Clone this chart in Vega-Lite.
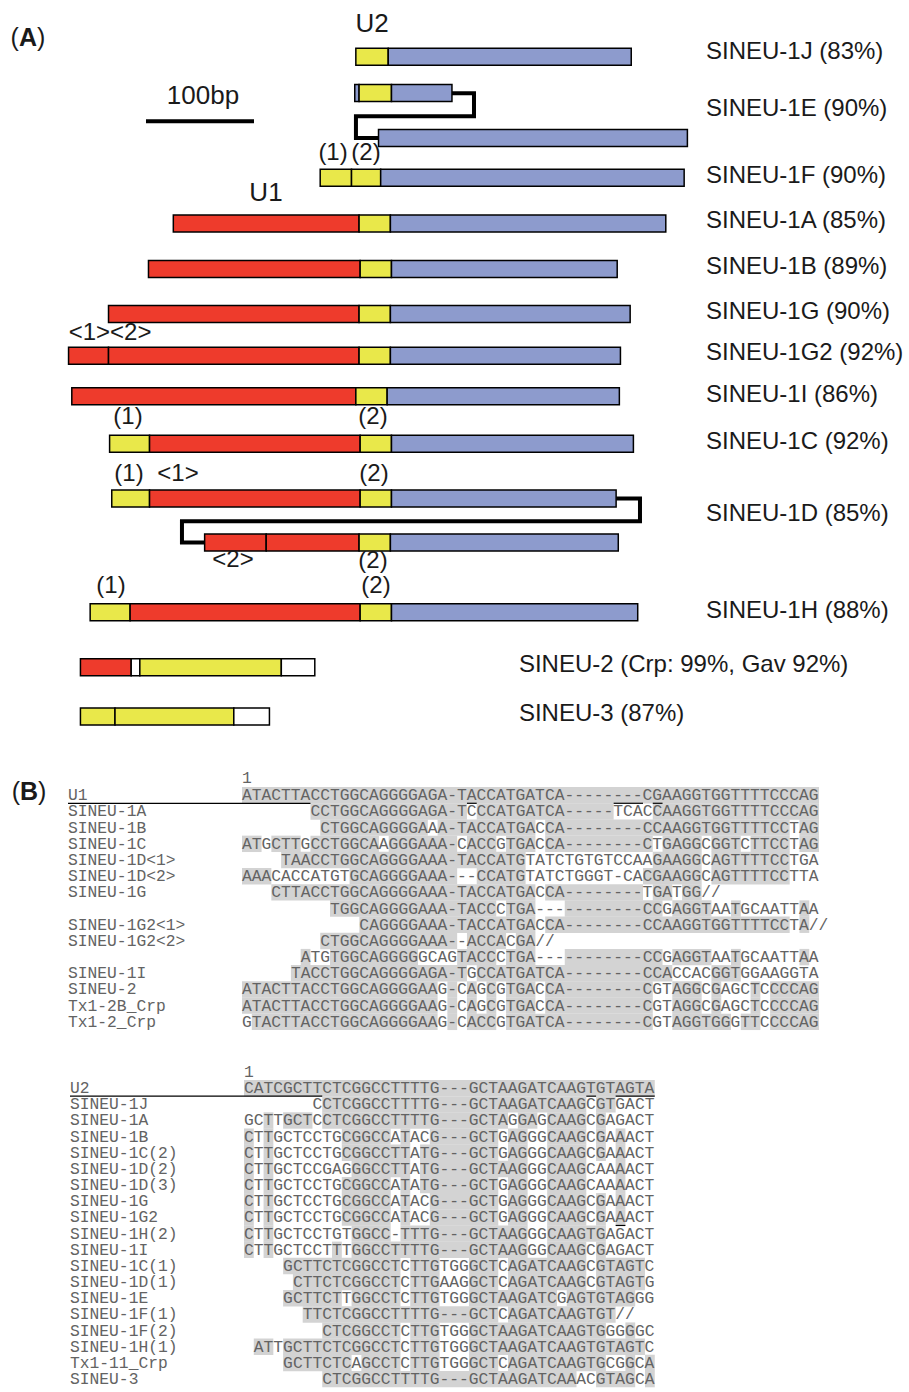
{
  "$schema": "https://vega.github.io/schema/vega-lite/v6.json",
  "width": 909,
  "height": 1392,
  "autosize": "none",
  "padding": 0,
  "background": "white",
  "config": {"view": {"stroke": null}, "axis": {"disable": true}, "legend": {"disable": true}},
  "datasets": {
    "segA": [
      {"el": "1J", "lane": 1.022, "s": -2, "e": 28, "seg": "U2"},
      {"el": "1J", "lane": 1.022, "s": 28, "e": 253, "seg": "body"},
      {"el": "1E", "lane": 1.82, "s": -3, "e": 1, "seg": "body"},
      {"el": "1E", "lane": 1.82, "s": 1, "e": 31, "seg": "U2"},
      {"el": "1E", "lane": 1.82, "s": 31, "e": 87, "seg": "body"},
      {"el": "1E", "lane": 2.804, "s": 19, "e": 305, "seg": "body"},
      {"el": "1F", "lane": 3.674, "s": -35, "e": -6, "seg": "U2"},
      {"el": "1F", "lane": 3.674, "s": -6, "e": 21, "seg": "U2"},
      {"el": "1F", "lane": 3.674, "s": 21, "e": 302, "seg": "body"},
      {"el": "1A", "lane": 4.674, "s": -171, "e": 1, "seg": "U1"},
      {"el": "1A", "lane": 4.674, "s": 1, "e": 30, "seg": "U2"},
      {"el": "1A", "lane": 4.674, "s": 30, "e": 285, "seg": "body"},
      {"el": "1B", "lane": 5.67, "s": -194, "e": 2, "seg": "U1"},
      {"el": "1B", "lane": 5.67, "s": 2, "e": 31, "seg": "U2"},
      {"el": "1B", "lane": 5.67, "s": 31, "e": 240, "seg": "body"},
      {"el": "1G", "lane": 6.659, "s": -231, "e": 1, "seg": "U1"},
      {"el": "1G", "lane": 6.659, "s": 1, "e": 30, "seg": "U2"},
      {"el": "1G", "lane": 6.659, "s": 30, "e": 252, "seg": "body"},
      {"el": "1G2", "lane": 7.572, "s": -268, "e": -231, "seg": "U1"},
      {"el": "1G2", "lane": 7.572, "s": -231, "e": 1, "seg": "U1"},
      {"el": "1G2", "lane": 7.572, "s": 1, "e": 30, "seg": "U2"},
      {"el": "1G2", "lane": 7.572, "s": 30, "e": 243, "seg": "body"},
      {"el": "1I", "lane": 8.457, "s": -265, "e": -2, "seg": "U1"},
      {"el": "1I", "lane": 8.457, "s": -2, "e": 27, "seg": "U2"},
      {"el": "1I", "lane": 8.457, "s": 27, "e": 242, "seg": "body"},
      {"el": "1C", "lane": 9.5, "s": -230, "e": -193, "seg": "U2"},
      {"el": "1C", "lane": 9.5, "s": -193, "e": 2, "seg": "U1"},
      {"el": "1C", "lane": 9.5, "s": 2, "e": 31, "seg": "U2"},
      {"el": "1C", "lane": 9.5, "s": 31, "e": 255, "seg": "body"},
      {"el": "1D", "lane": 10.696, "s": -228, "e": -193, "seg": "U2"},
      {"el": "1D", "lane": 10.696, "s": -193, "e": 2, "seg": "U1"},
      {"el": "1D", "lane": 10.696, "s": 2, "e": 31, "seg": "U2"},
      {"el": "1D", "lane": 10.696, "s": 31, "e": 239, "seg": "body"},
      {"el": "1D", "lane": 11.659, "s": -142, "e": -85, "seg": "U1"},
      {"el": "1D", "lane": 11.659, "s": -85, "e": 1, "seg": "U1"},
      {"el": "1D", "lane": 11.659, "s": 1, "e": 30, "seg": "U2"},
      {"el": "1D", "lane": 11.659, "s": 30, "e": 241, "seg": "body"},
      {"el": "1H", "lane": 13.189, "s": -248, "e": -211, "seg": "U2"},
      {"el": "1H", "lane": 13.189, "s": -211, "e": 2, "seg": "U1"},
      {"el": "1H", "lane": 13.189, "s": 2, "e": 31, "seg": "U2"},
      {"el": "1H", "lane": 13.189, "s": 31, "e": 259, "seg": "body"},
      {"el": "S2", "lane": 14.391, "s": -257, "e": -210, "seg": "U1"},
      {"el": "S2", "lane": 14.391, "s": -210, "e": -202, "seg": "none"},
      {"el": "S2", "lane": 14.391, "s": -202, "e": -71, "seg": "U2"},
      {"el": "S2", "lane": 14.391, "s": -71, "e": -40, "seg": "none"},
      {"el": "S3", "lane": 15.472, "s": -257, "e": -225, "seg": "U2"},
      {"el": "S3", "lane": 15.472, "s": -225, "e": -115, "seg": "U2"},
      {"el": "S3", "lane": 15.472, "s": -115, "e": -82, "seg": "none"}
    ],
    "connA": [
      {"c": "1E", "k": 1, "x": 87, "lane": 1.826},
      {"c": "1E", "k": 2, "x": 107.4, "lane": 1.826},
      {"c": "1E", "k": 3, "x": 107.4, "lane": 2.326},
      {"c": "1E", "k": 4, "x": -1.9, "lane": 2.326},
      {"c": "1E", "k": 5, "x": -1.9, "lane": 2.804},
      {"c": "1E", "k": 6, "x": 19, "lane": 2.804},
      {"c": "1D", "k": 1, "x": 239, "lane": 10.696},
      {"c": "1D", "k": 2, "x": 261.1, "lane": 10.696},
      {"c": "1D", "k": 3, "x": 261.1, "lane": 11.196},
      {"c": "1D", "k": 4, "x": -163, "lane": 11.196},
      {"c": "1D", "k": 5, "x": -163, "lane": 11.659},
      {"c": "1D", "k": 6, "x": -142, "lane": 11.659}
    ],
    "barA": [{"s": -196.3, "e": -96.3, "lane": 2.435}],
    "annA": [
      {"t": "U2", "x": 13, "lane": 0.37, "k": "big"},
      {"t": "U1", "x": -85.2, "lane": 4.065, "k": "big"},
      {"t": "100bp", "x": -143.5, "lane": 1.957, "k": "big"},
      {"t": "(1)", "x": -23.1, "lane": 3.196, "k": "small"},
      {"t": "(2)", "x": 7.4, "lane": 3.196, "k": "small"},
      {"t": "<1><2>", "x": -229.6, "lane": 7.13, "k": "small"},
      {"t": "(1)", "x": -213, "lane": 8.978, "k": "small"},
      {"t": "(2)", "x": 13.9, "lane": 8.978, "k": "small"},
      {"t": "(1)", "x": -212, "lane": 10.217, "k": "small"},
      {"t": "<1>", "x": -166.7, "lane": 10.217, "k": "small"},
      {"t": "(2)", "x": 14.8, "lane": 10.217, "k": "small"},
      {"t": "<2>", "x": -115.7, "lane": 12.109, "k": "small"},
      {"t": "(2)", "x": 13.9, "lane": 12.13, "k": "small"},
      {"t": "(1)", "x": -228.7, "lane": 12.674, "k": "small"},
      {"t": "(2)", "x": 16.7, "lane": 12.674, "k": "small"}
    ],
    "lblA": [
      {"t": "SINEU-1J (83%)", "lane": 0.978, "g": "a"},
      {"t": "SINEU-1E (90%)", "lane": 2.239, "g": "a"},
      {"t": "SINEU-1F (90%)", "lane": 3.696, "g": "a"},
      {"t": "SINEU-1A (85%)", "lane": 4.696, "g": "a"},
      {"t": "SINEU-1B (89%)", "lane": 5.696, "g": "a"},
      {"t": "SINEU-1G (90%)", "lane": 6.674, "g": "a"},
      {"t": "SINEU-1G2 (92%)", "lane": 7.587, "g": "a"},
      {"t": "SINEU-1I (86%)", "lane": 8.5, "g": "a"},
      {"t": "SINEU-1C (92%)", "lane": 9.522, "g": "a"},
      {"t": "SINEU-1D (85%)", "lane": 11.109, "g": "a"},
      {"t": "SINEU-1H (88%)", "lane": 13.217, "g": "a"},
      {"t": "SINEU-2 (Crp: 99%, Gav 92%)", "lane": 14.413, "g": "b"},
      {"t": "SINEU-3 (87%)", "lane": 15.478, "g": "b"}
    ],
    "seqT": [
      {"r": 0, "lab": "U1", "s": 0, "seq": "ATACTTACCTGGCAGGGGAGA-TACCATGATCA--------CGAAGGTGGTTTTCCCAG"},
      {"r": 1, "lab": "SINEU-1A", "s": 7, "seq": "CCTGGCAGGGGAGA-TCCCATGATCA-----TCACCAAGGTGGTTTTCCCAG"},
      {"r": 2, "lab": "SINEU-1B", "s": 8, "seq": "CTGGCAGGGGAAA-TACCATGACCA--------CCAAGGTGGTTTTCCTAG"},
      {"r": 3, "lab": "SINEU-1C", "s": 0, "seq": "ATGCTTGCCTGGCAAGGGAAA-CACCGTGACCA--------CTGAGGCGGTCTTCCTAG"},
      {"r": 4, "lab": "SINEU-1D<1>", "s": 4, "seq": "TAACCTGGCAGGGGAAA-TACCATGTATCTGTGTCCAAGAAGGCAGTTTTCCTGA"},
      {"r": 5, "lab": "SINEU-1D<2>", "s": 0, "seq": "AAACACCATGTGCAGGGGAAA---CCATGTATCTGGGT-CACGAAGGCAGTTTTCCTTA"},
      {"r": 6, "lab": "SINEU-1G", "s": 3, "seq": "CTTACCTGGCAGGGGAAA-TACCATGACCA--------TGATGG//"},
      {"r": 7, "lab": "", "s": 9, "seq": "TGGCAGGGGAAA-TACCCTGA-----------CCGAGGTAATGCAATTAA"},
      {"r": 8, "lab": "SINEU-1G2<1>", "s": 12, "seq": "CAGGGGAAA-TACCATGACCA--------CCAAGGTGGTTTTCCTA//"},
      {"r": 9, "lab": "SINEU-1G2<2>", "s": 8, "seq": "CTGGCAGGGGAAA--ACCACGA//"},
      {"r": 10, "lab": "", "s": 6, "seq": "ATGTGGCAGGGGGCAGTACCCTGA-----------CCGAGGTAATGCAATTAA"},
      {"r": 11, "lab": "SINEU-1I", "s": 5, "seq": "TACCTGGCAGGGGAGA-TGCCATGATCA--------CCACCACGGTGGAAGGTA"},
      {"r": 12, "lab": "SINEU-2", "s": 0, "seq": "ATACTTACCTGGCAGGGGAAG-CAGCGTGACCA--------CGTAGGCGAGCTCCCCAG"},
      {"r": 13, "lab": "Tx1-2B_Crp", "s": 0, "seq": "ATACTTACCTGGCAGGGGAAG-CAGCGTGACCA--------CGTAGGCGAGCTCCCCAG"},
      {"r": 14, "lab": "Tx1-2_Crp", "s": 0, "seq": "GTACTTACCTGGCAGGGGAAG-CACCGTGATCA--------CGTAGGTGGGTTCCCCAG"}
    ],
    "shT": [
      {"r": 0, "s": 0, "e": 59},
      {"r": 1, "s": 7, "e": 23}, {"r": 1, "s": 24, "e": 38}, {"r": 1, "s": 42, "e": 59},
      {"r": 2, "s": 8, "e": 19}, {"r": 2, "s": 20, "e": 30}, {"r": 2, "s": 31, "e": 56}, {"r": 2, "s": 57, "e": 59},
      {"r": 3, "s": 0, "e": 2}, {"r": 3, "s": 3, "e": 6}, {"r": 3, "s": 7, "e": 14}, {"r": 3, "s": 15, "e": 22}, {"r": 3, "s": 23, "e": 26}, {"r": 3, "s": 27, "e": 30}, {"r": 3, "s": 31, "e": 42}, {"r": 3, "s": 43, "e": 47}, {"r": 3, "s": 48, "e": 51}, {"r": 3, "s": 52, "e": 56}, {"r": 3, "s": 57, "e": 59},
      {"r": 4, "s": 4, "e": 29}, {"r": 4, "s": 42, "e": 47}, {"r": 4, "s": 48, "e": 56},
      {"r": 5, "s": 0, "e": 3}, {"r": 5, "s": 11, "e": 22}, {"r": 5, "s": 24, "e": 29}, {"r": 5, "s": 41, "e": 47}, {"r": 5, "s": 48, "e": 56},
      {"r": 6, "s": 3, "e": 30}, {"r": 6, "s": 31, "e": 41}, {"r": 6, "s": 42, "e": 44}, {"r": 6, "s": 45, "e": 47},
      {"r": 7, "s": 9, "e": 26}, {"r": 7, "s": 27, "e": 30}, {"r": 7, "s": 33, "e": 43}, {"r": 7, "s": 44, "e": 48}, {"r": 7, "s": 50, "e": 51}, {"r": 7, "s": 57, "e": 58},
      {"r": 8, "s": 12, "e": 30}, {"r": 8, "s": 31, "e": 56}, {"r": 8, "s": 57, "e": 58},
      {"r": 9, "s": 8, "e": 22}, {"r": 9, "s": 23, "e": 27}, {"r": 9, "s": 28, "e": 30},
      {"r": 10, "s": 6, "e": 7}, {"r": 10, "s": 9, "e": 18}, {"r": 10, "s": 22, "e": 26}, {"r": 10, "s": 27, "e": 30}, {"r": 10, "s": 33, "e": 43}, {"r": 10, "s": 44, "e": 48}, {"r": 10, "s": 50, "e": 51}, {"r": 10, "s": 57, "e": 58},
      {"r": 11, "s": 5, "e": 23}, {"r": 11, "s": 24, "e": 44}, {"r": 11, "s": 48, "e": 51},
      {"r": 12, "s": 0, "e": 20}, {"r": 12, "s": 21, "e": 22}, {"r": 12, "s": 23, "e": 24}, {"r": 12, "s": 25, "e": 26}, {"r": 12, "s": 27, "e": 30}, {"r": 12, "s": 31, "e": 42}, {"r": 12, "s": 44, "e": 47}, {"r": 12, "s": 48, "e": 49}, {"r": 12, "s": 52, "e": 53}, {"r": 12, "s": 54, "e": 59},
      {"r": 13, "s": 0, "e": 20}, {"r": 13, "s": 21, "e": 22}, {"r": 13, "s": 23, "e": 24}, {"r": 13, "s": 25, "e": 26}, {"r": 13, "s": 27, "e": 30}, {"r": 13, "s": 31, "e": 42}, {"r": 13, "s": 44, "e": 47}, {"r": 13, "s": 48, "e": 49}, {"r": 13, "s": 52, "e": 53}, {"r": 13, "s": 54, "e": 59},
      {"r": 14, "s": 1, "e": 20}, {"r": 14, "s": 21, "e": 22}, {"r": 14, "s": 23, "e": 26}, {"r": 14, "s": 27, "e": 42}, {"r": 14, "s": 44, "e": 50}, {"r": 14, "s": 51, "e": 53}, {"r": 14, "s": 54, "e": 59}
    ],
    "ulT": [
      {"r": 0, "s": 23, "e": 24}, {"r": 0, "s": 38, "e": 41}, {"r": 0, "s": 42, "e": 43}
    ],
    "seqB": [
      {"r": 0, "lab": "U2", "s": 0, "seq": "CATCGCTTCTCGGCCTTTTG---GCTAAGATCAAGTGTAGTA"},
      {"r": 1, "lab": "SINEU-1J", "s": 7, "seq": "CCTCGGCCTTTTG---GCTAAGATCAAGCGTGACT"},
      {"r": 2, "lab": "SINEU-1A", "s": 0, "seq": "GCTTGCTCCTCGGCCTTTTG---GCTAGGAGCAAGCGAGACT"},
      {"r": 3, "lab": "SINEU-1B", "s": 0, "seq": "CTTGCTCCTGCGGCCATACG---GCTGAGGGCAAGCGAAACT"},
      {"r": 4, "lab": "SINEU-1C(2)", "s": 0, "seq": "CTTGCTCCTGCGGCCTTATG---GCTGAGGGCAAGCGAAACT"},
      {"r": 5, "lab": "SINEU-1D(2)", "s": 0, "seq": "CTTGCTCCGAGGGCCTTATG---GCTAAGGGCAAGCAAAACT"},
      {"r": 6, "lab": "SINEU-1D(3)", "s": 0, "seq": "CTTGCTCCTGCGGCCATATG---GCTGAGGGCAAGCAAAACT"},
      {"r": 7, "lab": "SINEU-1G", "s": 0, "seq": "CTTGCTCCTGCGGCCATACG---GCTGAGGGCAAGCGAAACT"},
      {"r": 8, "lab": "SINEU-1G2", "s": 0, "seq": "CTTGCTCCTGCGGCCATACG---GCTGAGGGCAAGCGAAACT"},
      {"r": 9, "lab": "SINEU-1H(2)", "s": 0, "seq": "CTTGCTCCTGTGGCC-TTTG---GCTAAGGGCAAGTGAGACT"},
      {"r": 10, "lab": "SINEU-1I", "s": 0, "seq": "CTTGCTCCTTTGGCCTTTTG---GCTAAGGGCAAGCGAGACT"},
      {"r": 11, "lab": "SINEU-1C(1)", "s": 4, "seq": "GCTTCTCGGCCTCTTGTGGGCTCAGATCAAGCGTAGTC"},
      {"r": 12, "lab": "SINEU-1D(1)", "s": 5, "seq": "CTTCTCGGCCTCTTGAAGGCTCAGATCAAGCGTAGTG"},
      {"r": 13, "lab": "SINEU-1E", "s": 4, "seq": "GCTTCTTGGCCTCTTGTGGGCTAAGATCGAGTGTAGGG"},
      {"r": 14, "lab": "SINEU-1F(1)", "s": 6, "seq": "TTCTCGGCCTTTTG---GCTCAGATCAAGTGT//"},
      {"r": 15, "lab": "SINEU-1F(2)", "s": 8, "seq": "CTCGGCCTCTTGTGGGCTAAGATCAAGTGGGGGC"},
      {"r": 16, "lab": "SINEU-1H(1)", "s": 1, "seq": "ATTGCTTCTCGGCCTCTTGTGGGCTAAGATCAAGTGTAGTC"},
      {"r": 17, "lab": "Tx1-11_Crp", "s": 4, "seq": "GCTTCTCAGCCTCTTGTGGGCTCAGATCAAGTGCGGCA"},
      {"r": 18, "lab": "SINEU-3", "s": 8, "seq": "CTCGGCCTTTTG---GCTAAGATCAAACGTAGCA"}
    ],
    "shB": [
      {"r": 0, "s": 0, "e": 42},
      {"r": 1, "s": 8, "e": 35}, {"r": 1, "s": 36, "e": 38},
      {"r": 2, "s": 2, "e": 3}, {"r": 2, "s": 4, "e": 7}, {"r": 2, "s": 8, "e": 27}, {"r": 2, "s": 28, "e": 30}, {"r": 2, "s": 31, "e": 35}, {"r": 2, "s": 36, "e": 37},
      {"r": 3, "s": 0, "e": 1}, {"r": 3, "s": 2, "e": 3}, {"r": 3, "s": 10, "e": 15}, {"r": 3, "s": 16, "e": 17}, {"r": 3, "s": 19, "e": 26}, {"r": 3, "s": 27, "e": 29}, {"r": 3, "s": 31, "e": 35}, {"r": 3, "s": 36, "e": 37}, {"r": 3, "s": 38, "e": 39},
      {"r": 4, "s": 0, "e": 1}, {"r": 4, "s": 2, "e": 3}, {"r": 4, "s": 10, "e": 17}, {"r": 4, "s": 18, "e": 26}, {"r": 4, "s": 27, "e": 29}, {"r": 4, "s": 31, "e": 35}, {"r": 4, "s": 36, "e": 37}, {"r": 4, "s": 38, "e": 39},
      {"r": 5, "s": 0, "e": 1}, {"r": 5, "s": 2, "e": 3}, {"r": 5, "s": 11, "e": 17}, {"r": 5, "s": 18, "e": 29}, {"r": 5, "s": 31, "e": 35}, {"r": 5, "s": 38, "e": 39},
      {"r": 6, "s": 0, "e": 1}, {"r": 6, "s": 2, "e": 3}, {"r": 6, "s": 10, "e": 15}, {"r": 6, "s": 16, "e": 17}, {"r": 6, "s": 18, "e": 26}, {"r": 6, "s": 27, "e": 29}, {"r": 6, "s": 31, "e": 35}, {"r": 6, "s": 38, "e": 39},
      {"r": 7, "s": 0, "e": 1}, {"r": 7, "s": 2, "e": 3}, {"r": 7, "s": 10, "e": 15}, {"r": 7, "s": 16, "e": 17}, {"r": 7, "s": 19, "e": 26}, {"r": 7, "s": 27, "e": 29}, {"r": 7, "s": 31, "e": 35}, {"r": 7, "s": 36, "e": 37}, {"r": 7, "s": 38, "e": 39},
      {"r": 8, "s": 0, "e": 1}, {"r": 8, "s": 2, "e": 3}, {"r": 8, "s": 10, "e": 15}, {"r": 8, "s": 16, "e": 17}, {"r": 8, "s": 19, "e": 26}, {"r": 8, "s": 27, "e": 29}, {"r": 8, "s": 31, "e": 35}, {"r": 8, "s": 36, "e": 37}, {"r": 8, "s": 38, "e": 39},
      {"r": 9, "s": 0, "e": 1}, {"r": 9, "s": 2, "e": 3}, {"r": 9, "s": 11, "e": 15}, {"r": 9, "s": 16, "e": 29}, {"r": 9, "s": 31, "e": 37},
      {"r": 10, "s": 0, "e": 1}, {"r": 10, "s": 2, "e": 3}, {"r": 10, "s": 9, "e": 10}, {"r": 10, "s": 11, "e": 29}, {"r": 10, "s": 31, "e": 35}, {"r": 10, "s": 36, "e": 37},
      {"r": 11, "s": 4, "e": 16}, {"r": 11, "s": 17, "e": 20}, {"r": 11, "s": 23, "e": 26}, {"r": 11, "s": 27, "e": 35}, {"r": 11, "s": 36, "e": 41},
      {"r": 12, "s": 5, "e": 16}, {"r": 12, "s": 17, "e": 20}, {"r": 12, "s": 23, "e": 26}, {"r": 12, "s": 27, "e": 35}, {"r": 12, "s": 36, "e": 41},
      {"r": 13, "s": 4, "e": 10}, {"r": 13, "s": 11, "e": 16}, {"r": 13, "s": 17, "e": 20}, {"r": 13, "s": 23, "e": 32}, {"r": 13, "s": 33, "e": 40},
      {"r": 14, "s": 6, "e": 26}, {"r": 14, "s": 27, "e": 38},
      {"r": 15, "s": 8, "e": 16}, {"r": 15, "s": 17, "e": 20}, {"r": 15, "s": 23, "e": 37}, {"r": 15, "s": 39, "e": 40},
      {"r": 16, "s": 1, "e": 3}, {"r": 16, "s": 4, "e": 16}, {"r": 16, "s": 17, "e": 20}, {"r": 16, "s": 23, "e": 41},
      {"r": 17, "s": 4, "e": 11}, {"r": 17, "s": 12, "e": 16}, {"r": 17, "s": 17, "e": 20}, {"r": 17, "s": 23, "e": 26}, {"r": 17, "s": 27, "e": 37}, {"r": 17, "s": 39, "e": 40}, {"r": 17, "s": 41, "e": 42},
      {"r": 18, "s": 8, "e": 34}, {"r": 18, "s": 36, "e": 40}, {"r": 18, "s": 41, "e": 42}
    ],
    "ulB": [
      {"r": 0, "s": 35, "e": 36}, {"r": 0, "s": 38, "e": 42}, {"r": 8, "s": 38, "e": 39}
    ]
  },
  "layer": [
    {
      "layer": [
        {
          "data": {"name": "connA"},
          "mark": {"type": "line", "color": "black", "strokeWidth": 4, "strokeJoin": "miter", "strokeCap": "butt"},
          "encoding": {
            "x": {"field": "x", "type": "quantitative", "scale": {"domain": [-331.48, 510.19], "nice": false, "zero": false}, "axis": null},
            "y": {"field": "lane", "type": "quantitative", "scale": {"domain": [-0.1087, 30.152], "nice": false, "zero": false, "reverse": true}, "axis": null},
            "order": {"field": "k", "type": "quantitative"},
            "detail": {"field": "c", "type": "nominal"}
          }
        },
        {
          "data": {"name": "segA"},
          "mark": {"type": "bar", "orient": "horizontal", "size": 17, "stroke": "black", "strokeWidth": 1.5},
          "encoding": {
            "x": {"field": "s", "type": "quantitative", "scale": {"domain": [-331.48, 510.19], "nice": false, "zero": false}, "axis": null},
            "x2": {"field": "e"},
            "y": {"field": "lane", "type": "quantitative", "scale": {"domain": [-0.1087, 30.152], "nice": false, "zero": false, "reverse": true}, "axis": null},
            "color": {"field": "seg", "type": "nominal", "scale": {"domain": ["U1", "U2", "body", "none"], "range": ["#EE3B2C", "#E9E84A", "#8D9BCD", "#FFFFFF"]}, "legend": null}
          }
        },
        {
          "data": {"name": "barA"},
          "mark": {"type": "rule", "color": "black", "strokeWidth": 4},
          "encoding": {
            "x": {"field": "s", "type": "quantitative", "scale": {"domain": [-331.48, 510.19], "nice": false, "zero": false}, "axis": null},
            "x2": {"field": "e"},
            "y": {"field": "lane", "type": "quantitative", "scale": {"domain": [-0.1087, 30.152], "nice": false, "zero": false, "reverse": true}, "axis": null}
          }
        },
        {
          "data": {"name": "annA"},
          "transform": [{"filter": "datum.k == 'big'"}],
          "mark": {"type": "text", "font": "Liberation Sans", "fontSize": 26, "align": "center", "baseline": "middle", "dy": -3, "fill": "#1a1a1a"},
          "encoding": {
            "x": {"field": "x", "type": "quantitative", "scale": {"domain": [-331.48, 510.19], "nice": false, "zero": false}, "axis": null},
            "y": {"field": "lane", "type": "quantitative", "scale": {"domain": [-0.1087, 30.152], "nice": false, "zero": false, "reverse": true}, "axis": null},
            "text": {"field": "t"}
          }
        },
        {
          "data": {"name": "annA"},
          "transform": [{"filter": "datum.k == 'small'"}],
          "mark": {"type": "text", "font": "Liberation Sans", "fontSize": 24, "align": "center", "baseline": "middle", "dy": -3, "fill": "#1a1a1a"},
          "encoding": {
            "x": {"field": "x", "type": "quantitative", "scale": {"domain": [-331.48, 510.19], "nice": false, "zero": false}, "axis": null},
            "y": {"field": "lane", "type": "quantitative", "scale": {"domain": [-0.1087, 30.152], "nice": false, "zero": false, "reverse": true}, "axis": null},
            "text": {"field": "t"}
          }
        },
        {
          "data": {"name": "lblA"},
          "transform": [{"filter": "datum.g == 'a'"}],
          "mark": {"type": "text", "font": "Liberation Sans", "fontSize": 24, "align": "left", "baseline": "middle", "dy": -3, "fill": "#1a1a1a"},
          "encoding": {
            "x": {"datum": 322.2, "type": "quantitative", "scale": {"domain": [-331.48, 510.19], "nice": false, "zero": false}, "axis": null},
            "y": {"field": "lane", "type": "quantitative", "scale": {"domain": [-0.1087, 30.152], "nice": false, "zero": false, "reverse": true}, "axis": null},
            "text": {"field": "t"}
          }
        },
        {
          "data": {"name": "lblA"},
          "transform": [{"filter": "datum.g == 'b'"}],
          "mark": {"type": "text", "font": "Liberation Sans", "fontSize": 24, "align": "left", "baseline": "middle", "dy": -3, "fill": "#1a1a1a"},
          "encoding": {
            "x": {"datum": 149, "type": "quantitative", "scale": {"domain": [-331.48, 510.19], "nice": false, "zero": false}, "axis": null},
            "y": {"field": "lane", "type": "quantitative", "scale": {"domain": [-0.1087, 30.152], "nice": false, "zero": false, "reverse": true}, "axis": null},
            "text": {"field": "t"}
          }
        },
        {
          "data": {"values": [{"p": "A", "x": -305.6, "lane": 0.696}]},
          "mark": {"type": "text", "font": "Liberation Sans", "fontSize": 25, "fontWeight": "bold", "align": "center", "baseline": "middle", "dy": -4, "fill": "#1a1a1a"},
          "encoding": {
            "x": {"field": "x", "type": "quantitative", "scale": {"domain": [-331.48, 510.19], "nice": false, "zero": false}, "axis": null},
            "y": {"field": "lane", "type": "quantitative", "scale": {"domain": [-0.1087, 30.152], "nice": false, "zero": false, "reverse": true}, "axis": null},
            "text": {"field": "p"}
          }
        },
        {
          "data": {"values": [{"p": "(", "x": -305.6, "lane": 0.696}]},
          "mark": {"type": "text", "font": "Liberation Sans", "fontSize": 25, "align": "right", "baseline": "middle", "dx": -9, "dy": -4, "fill": "#1a1a1a"},
          "encoding": {
            "x": {"field": "x", "type": "quantitative", "scale": {"domain": [-331.48, 510.19], "nice": false, "zero": false}, "axis": null},
            "y": {"field": "lane", "type": "quantitative", "scale": {"domain": [-0.1087, 30.152], "nice": false, "zero": false, "reverse": true}, "axis": null},
            "text": {"field": "p"}
          }
        },
        {
          "data": {"values": [{"p": ")", "x": -305.6, "lane": 0.696}]},
          "mark": {"type": "text", "font": "Liberation Sans", "fontSize": 25, "align": "left", "baseline": "middle", "dx": 9, "dy": -4, "fill": "#1a1a1a"},
          "encoding": {
            "x": {"field": "x", "type": "quantitative", "scale": {"domain": [-331.48, 510.19], "nice": false, "zero": false}, "axis": null},
            "y": {"field": "lane", "type": "quantitative", "scale": {"domain": [-0.1087, 30.152], "nice": false, "zero": false, "reverse": true}, "axis": null},
            "text": {"field": "p"}
          }
        }
      ]
    },
    {
      "layer": [
        {
          "data": {"name": "shT"},
          "mark": {"type": "bar", "orient": "horizontal", "size": 16.4, "color": "#D3D3D3"},
          "encoding": {
            "x": {"field": "s", "type": "quantitative", "scale": {"domain": [-24.744, 68.2], "nice": false, "zero": false}, "axis": null},
            "x2": {"field": "e"},
            "y": {"field": "r", "type": "quantitative", "scale": {"domain": [-48.834, 36.564], "nice": false, "zero": false, "reverse": true}, "axis": null}
          }
        },
        {
          "data": {"name": "ulT"},
          "mark": {"type": "rule", "color": "black", "strokeWidth": 1.2, "yOffset": 8},
          "encoding": {
            "x": {"field": "s", "type": "quantitative", "scale": {"domain": [-24.744, 68.2], "nice": false, "zero": false}, "axis": null},
            "x2": {"field": "e"},
            "y": {"field": "r", "type": "quantitative", "scale": {"domain": [-48.834, 36.564], "nice": false, "zero": false, "reverse": true}, "axis": null}
          }
        },
        {
          "data": {"values": [{"r": 0}]},
          "mark": {"type": "rule", "color": "black", "strokeWidth": 1.2, "yOffset": 8},
          "encoding": {
            "x": {"datum": -17.79, "type": "quantitative", "scale": {"domain": [-24.744, 68.2], "nice": false, "zero": false}, "axis": null},
            "x2": {"datum": 7},
            "y": {"field": "r", "type": "quantitative", "scale": {"domain": [-48.834, 36.564], "nice": false, "zero": false, "reverse": true}, "axis": null}
          }
        },
        {
          "data": {"name": "seqT"},
          "mark": {"type": "text", "font": "Liberation Mono", "fontSize": 16.3, "align": "left", "baseline": "middle", "fill": "#636363"},
          "encoding": {
            "x": {"field": "s", "type": "quantitative", "scale": {"domain": [-24.744, 68.2], "nice": false, "zero": false}, "axis": null},
            "y": {"field": "r", "type": "quantitative", "scale": {"domain": [-48.834, 36.564], "nice": false, "zero": false, "reverse": true}, "axis": null},
            "text": {"field": "seq"}
          }
        },
        {
          "data": {"name": "seqT"},
          "mark": {"type": "text", "font": "Liberation Mono", "fontSize": 16.3, "align": "left", "baseline": "middle", "fill": "#636363"},
          "encoding": {
            "x": {"datum": -17.79, "type": "quantitative", "scale": {"domain": [-24.744, 68.2], "nice": false, "zero": false}, "axis": null},
            "y": {"field": "r", "type": "quantitative", "scale": {"domain": [-48.834, 36.564], "nice": false, "zero": false, "reverse": true}, "axis": null},
            "text": {"field": "lab"}
          }
        },
        {
          "data": {"values": [{"t": "1", "c": 0, "r": -1.04}]},
          "mark": {"type": "text", "font": "Liberation Mono", "fontSize": 16.3, "align": "left", "baseline": "middle", "fill": "#636363"},
          "encoding": {
            "x": {"field": "c", "type": "quantitative", "scale": {"domain": [-24.744, 68.2], "nice": false, "zero": false}, "axis": null},
            "y": {"field": "r", "type": "quantitative", "scale": {"domain": [-48.834, 36.564], "nice": false, "zero": false, "reverse": true}, "axis": null},
            "text": {"field": "t"}
          }
        },
        {
          "data": {"values": [{"p": "B", "c": -21.78, "r": -0.184}]},
          "mark": {"type": "text", "font": "Liberation Sans", "fontSize": 25, "fontWeight": "bold", "align": "center", "baseline": "middle", "fill": "#1a1a1a"},
          "encoding": {
            "x": {"field": "c", "type": "quantitative", "scale": {"domain": [-24.744, 68.2], "nice": false, "zero": false}, "axis": null},
            "y": {"field": "r", "type": "quantitative", "scale": {"domain": [-48.834, 36.564], "nice": false, "zero": false, "reverse": true}, "axis": null},
            "text": {"field": "p"}
          }
        },
        {
          "data": {"values": [{"p": "(", "c": -21.78, "r": -0.184}]},
          "mark": {"type": "text", "font": "Liberation Sans", "fontSize": 25, "align": "right", "baseline": "middle", "dx": -9, "fill": "#1a1a1a"},
          "encoding": {
            "x": {"field": "c", "type": "quantitative", "scale": {"domain": [-24.744, 68.2], "nice": false, "zero": false}, "axis": null},
            "y": {"field": "r", "type": "quantitative", "scale": {"domain": [-48.834, 36.564], "nice": false, "zero": false, "reverse": true}, "axis": null},
            "text": {"field": "p"}
          }
        },
        {
          "data": {"values": [{"p": ")", "c": -21.78, "r": -0.184}]},
          "mark": {"type": "text", "font": "Liberation Sans", "fontSize": 25, "align": "left", "baseline": "middle", "dx": 9, "fill": "#1a1a1a"},
          "encoding": {
            "x": {"field": "c", "type": "quantitative", "scale": {"domain": [-24.744, 68.2], "nice": false, "zero": false}, "axis": null},
            "y": {"field": "r", "type": "quantitative", "scale": {"domain": [-48.834, 36.564], "nice": false, "zero": false, "reverse": true}, "axis": null},
            "text": {"field": "p"}
          }
        }
      ]
    },
    {
      "layer": [
        {
          "data": {"name": "shB"},
          "mark": {"type": "bar", "orient": "horizontal", "size": 16.4, "color": "#D3D3D3"},
          "encoding": {
            "x": {"field": "s", "type": "quantitative", "scale": {"domain": [-24.949, 67.996], "nice": false, "zero": false}, "axis": null},
            "x2": {"field": "e"},
            "y": {"field": "r", "type": "quantitative", "scale": {"domain": [-67.015, 18.489], "nice": false, "zero": false, "reverse": true}, "axis": null}
          }
        },
        {
          "data": {"name": "ulB"},
          "mark": {"type": "rule", "color": "black", "strokeWidth": 1.2, "yOffset": 8},
          "encoding": {
            "x": {"field": "s", "type": "quantitative", "scale": {"domain": [-24.949, 67.996], "nice": false, "zero": false}, "axis": null},
            "x2": {"field": "e"},
            "y": {"field": "r", "type": "quantitative", "scale": {"domain": [-67.015, 18.489], "nice": false, "zero": false, "reverse": true}, "axis": null}
          }
        },
        {
          "data": {"values": [{"r": 0}]},
          "mark": {"type": "rule", "color": "black", "strokeWidth": 1.2, "yOffset": 8},
          "encoding": {
            "x": {"datum": -17.79, "type": "quantitative", "scale": {"domain": [-24.949, 67.996], "nice": false, "zero": false}, "axis": null},
            "x2": {"datum": 8},
            "y": {"field": "r", "type": "quantitative", "scale": {"domain": [-67.015, 18.489], "nice": false, "zero": false, "reverse": true}, "axis": null}
          }
        },
        {
          "data": {"name": "seqB"},
          "mark": {"type": "text", "font": "Liberation Mono", "fontSize": 16.3, "align": "left", "baseline": "middle", "fill": "#636363"},
          "encoding": {
            "x": {"field": "s", "type": "quantitative", "scale": {"domain": [-24.949, 67.996], "nice": false, "zero": false}, "axis": null},
            "y": {"field": "r", "type": "quantitative", "scale": {"domain": [-67.015, 18.489], "nice": false, "zero": false, "reverse": true}, "axis": null},
            "text": {"field": "seq"}
          }
        },
        {
          "data": {"name": "seqB"},
          "mark": {"type": "text", "font": "Liberation Mono", "fontSize": 16.3, "align": "left", "baseline": "middle", "fill": "#636363"},
          "encoding": {
            "x": {"datum": -17.79, "type": "quantitative", "scale": {"domain": [-24.949, 67.996], "nice": false, "zero": false}, "axis": null},
            "y": {"field": "r", "type": "quantitative", "scale": {"domain": [-67.015, 18.489], "nice": false, "zero": false, "reverse": true}, "axis": null},
            "text": {"field": "lab"}
          }
        },
        {
          "data": {"values": [{"t": "1", "c": 0, "r": -1.0}]},
          "mark": {"type": "text", "font": "Liberation Mono", "fontSize": 16.3, "align": "left", "baseline": "middle", "fill": "#636363"},
          "encoding": {
            "x": {"field": "c", "type": "quantitative", "scale": {"domain": [-24.949, 67.996], "nice": false, "zero": false}, "axis": null},
            "y": {"field": "r", "type": "quantitative", "scale": {"domain": [-67.015, 18.489], "nice": false, "zero": false, "reverse": true}, "axis": null},
            "text": {"field": "t"}
          }
        }
      ]
    }
  ],
  "resolve": {"scale": {"x": "independent", "y": "independent", "color": "independent"}}
}
